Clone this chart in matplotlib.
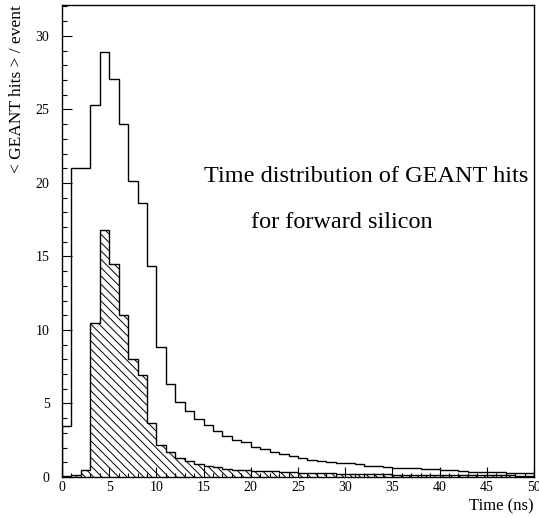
import numpy as np
import matplotlib
matplotlib.use("Agg")
import matplotlib.pyplot as plt
from matplotlib.ticker import MultipleLocator

plt.rcParams['font.family'] = ['Liberation Serif', 'DejaVu Serif']
plt.rcParams['hatch.linewidth'] = 0.7

# 1 ns bins from 0 to 50 ns
bin_edges = np.arange(0, 51, 1)

# all GEANT hits per event in each time bin
all_hits = [3.45, 21.0, 21.0, 25.3, 28.9, 27.1, 24.0, 20.1, 18.65, 14.35,
            8.85, 6.3, 5.1, 4.5, 3.95, 3.55, 3.15, 2.8, 2.5, 2.4,
            2.05, 1.9, 1.7, 1.55, 1.4, 1.3, 1.17, 1.08, 1.0, 0.97,
            0.93, 0.86, 0.78, 0.75, 0.7, 0.64, 0.6, 0.58, 0.57, 0.54,
            0.5, 0.45, 0.41, 0.37, 0.36, 0.33, 0.32, 0.3, 0.27, 0.3]

# forward silicon hits per event in each time bin
fwd_hits = [0.05, 0.12, 0.45, 10.5, 16.8, 14.5, 11.05, 8.05, 6.95, 3.65,
            2.2, 1.68, 1.3, 1.07, 0.88, 0.75, 0.66, 0.55, 0.5, 0.46,
            0.43, 0.4, 0.38, 0.35, 0.32, 0.3, 0.28, 0.26, 0.24, 0.22,
            0.2, 0.2, 0.19, 0.18, 0.18, 0.17, 0.16, 0.16, 0.15, 0.15,
            0.14, 0.14, 0.13, 0.13, 0.12, 0.12, 0.11, 0.11, 0.1, 0.1]

x_ticks = [0, 5, 10, 15, 20, 25, 30, 35, 40, 45, 50]
y_ticks = [0, 5, 10, 15, 20, 25, 30]

fig = plt.figure(figsize=(5.39, 5.18), dpi=100)
ax = fig.add_axes([62 / 539, 1 - 477 / 518, (534 - 62) / 539, (477 - 5) / 518])

ax.stairs(fwd_hits, bin_edges, baseline=0, fill=True, facecolor='none',
          edgecolor='black', hatch='\\\\\\\\', linewidth=1.0)
ax.stairs(all_hits, bin_edges, baseline=0, fill=False, color='black',
          linewidth=1.0)

ax.set_xlim(0, 50)
ax.set_ylim(0, 32.1)
ax.set_xticks(x_ticks)
ax.set_yticks(y_ticks)
ax.xaxis.set_minor_locator(MultipleLocator(1))
ax.yaxis.set_minor_locator(MultipleLocator(1))
ax.tick_params(axis='both', which='both', direction='in', top=False, right=False,
               labelsize=10, width=0.8, color='black')
ax.tick_params(axis='x', which='major', length=7, pad=3)
ax.tick_params(axis='x', which='minor', length=3)
ax.tick_params(axis='y', which='major', length=7, pad=9)
ax.tick_params(axis='y', which='minor', length=3.5)
for sp in ax.spines.values():
    sp.set_linewidth(1.0)

ax.set_ylabel('< GEANT hits > / event', fontsize=12.5, loc='top', labelpad=8)
ax.text(1.0, -0.045, 'Time (ns)', transform=ax.transAxes, ha='right', va='top',
        fontsize=12)

ax.text(0.644, 0.636, 'Time distribution of GEANT hits', transform=ax.transAxes,
        ha='center', va='center', fontsize=17.5)
ax.text(0.592, 0.540, 'for forward silicon', transform=ax.transAxes,
        ha='center', va='center', fontsize=17.5)

fig.savefig('out.png', dpi=100)
